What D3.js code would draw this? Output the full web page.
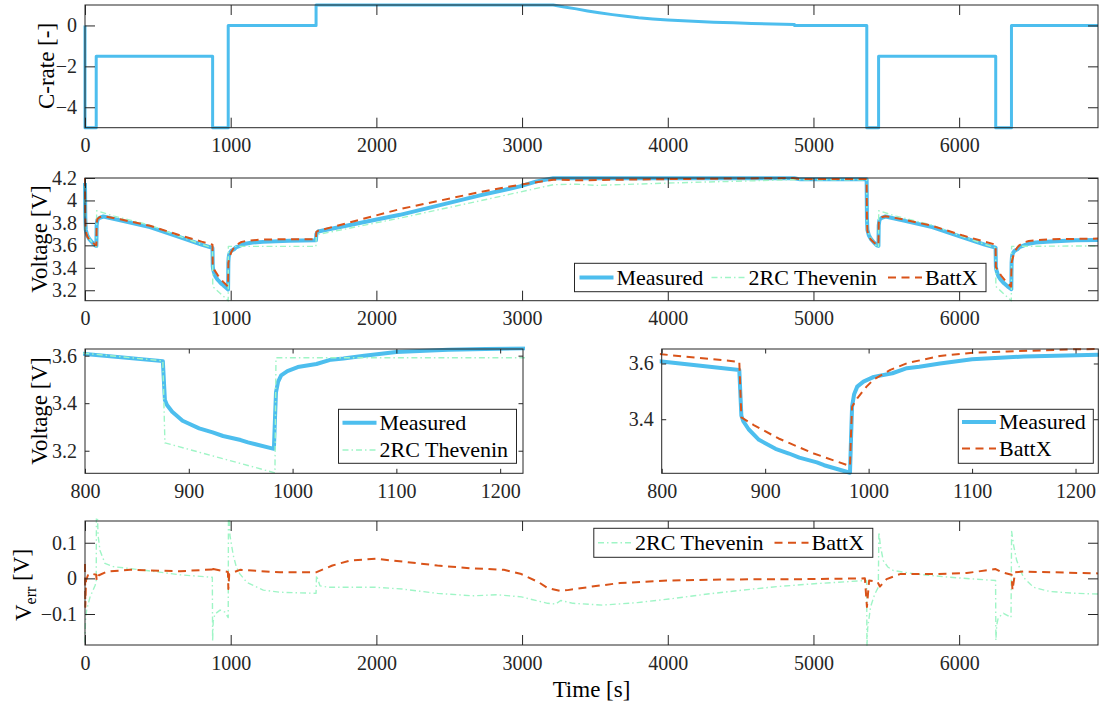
<!DOCTYPE html>
<html><head><meta charset="utf-8">
<script src="https://cdn.jsdelivr.net/npm/d3@7"></script>
<style>body{margin:0;background:#fff} svg text{font-family:'Liberation Serif','DejaVu Serif',serif;}</style>
</head><body>
<svg id="chart" width="1099" height="706" font-family="Liberation Serif, DejaVu Serif, serif"></svg>
<script>
// ---------------- data ----------------
const seriesNames = ["Measured", "2RC Thevenin", "BattX"];

// C-rate [-] vs time [s]
const cRate = [[0,0],[0,-5],[77,-5],[77,-1.5],[876,-1.5],[876,-5],[983,-5],[983,0],[1586,0],[1586,1],
  [3214,1],[3290,0.9],[3372,0.81],[3450,0.71],[3529,0.62],[3620,0.53],[3712,0.45],[3800,0.38],[3896,0.32],
  [4000,0.27],[4105,0.23],[4210,0.19],[4314,0.16],[4450,0.13],[4576,0.10],[4720,0.075],[4870,0.05],[4870,0],
  [5366,0],[5366,-5],[5447,-5],[5447,-1.5],[6251,-1.5],[6251,-5],[6359,-5],[6359,0],[6953,0]];

// Terminal voltage [V] vs time [s]
const measured = [[0,4.155],[2,3.85],[5,3.74],[15,3.69],[30,3.655],[50,3.625],[70,3.60],[78,3.595],[80,3.78],
  [85,3.827],[100,3.845],[126,3.857],[250,3.82],[446,3.762],[650,3.673],[800,3.607],[875,3.577],[877,3.413],
  [879,3.392],[884,3.364],[894,3.326],[910,3.294],[923,3.277],[933,3.262],[950,3.245],[957,3.235],[982,3.208],
  [983,3.33],[984,3.445],[986,3.49],[989,3.517],[995,3.535],[1005,3.552],[1023,3.565],[1037,3.583],[1049,3.588],
  [1069,3.600],[1100,3.615],[1150,3.625],[1222,3.631],[1400,3.64],[1585,3.645],[1588,3.70],[1600,3.723],
  [2162,3.872],[2711,4.045],[2985,4.125],[3100,4.17],[3214,4.197],[4870,4.197],[4907,4.188],[5365,4.188],
  [5367,3.85],[5370,3.74],[5380,3.69],[5395,3.655],[5415,3.625],[5435,3.60],[5446,3.595],[5448,3.78],
  [5453,3.827],[5468,3.845],[5494,3.857],[5620,3.82],[5815,3.762],[6020,3.673],[6175,3.607],[6250,3.58],
  [6252,3.413],[6254,3.392],[6259,3.364],[6269,3.326],[6285,3.294],[6308,3.262],[6332,3.235],[6358,3.21],
  [6359,3.33],[6360,3.445],[6362,3.49],[6365,3.517],[6371,3.535],[6381,3.552],[6399,3.565],[6413,3.583],
  [6445,3.600],[6476,3.615],[6526,3.625],[6600,3.633],[6800,3.645],[6953,3.648]];

const thevenin = [[0,4.15],[2,3.74],[30,3.66],[60,3.605],[78,3.58],[80,3.908],[200,3.86],[446,3.78],[650,3.68],
  [800,3.61],[875,3.578],[877,3.233],[983,3.107],[984,3.591],[1585,3.591],[1588,3.694],[2162,3.843],
  [2711,3.997],[2985,4.075],[3214,4.14],[3374,4.145],[3511,4.134],[4003,4.155],[4861,4.185],[5365,4.185],
  [5367,3.74],[5395,3.66],[5425,3.605],[5446,3.58],[5448,3.908],[5568,3.86],[5815,3.78],[6020,3.68],
  [6175,3.61],[6250,3.578],[6252,3.233],[6358,3.107],[6360,3.591],[6953,3.595]];

const battx = [[0,4.2],[2,3.85],[5,3.73],[15,3.68],[30,3.65],[50,3.625],[70,3.605],[78,3.60],[80,3.80],
  [85,3.835],[100,3.85],[126,3.86],[250,3.83],[446,3.774],[650,3.69],[789,3.638],[800,3.633],[875,3.606],
  [877,3.407],[889,3.379],[913,3.331],[947,3.277],[982,3.232],[983,3.35],[984,3.445],[989,3.475],[998,3.517],
  [1005,3.543],[1021,3.577],[1037,3.601],[1069,3.627],[1102,3.639],[1134,3.643],[1198,3.651],[1222,3.652],
  [1419,3.655],[1585,3.655],[1588,3.72],[1600,3.73],[2162,3.923],[2711,4.075],[2985,4.14],[3214,4.185],
  [3397,4.18],[4003,4.19],[4861,4.2],[4907,4.19],[5365,4.19],[5367,3.85],[5370,3.73],[5380,3.68],
  [5395,3.65],[5415,3.625],[5435,3.605],[5446,3.60],[5448,3.80],[5453,3.835],[5468,3.85],[5494,3.86],
  [5620,3.83],[5815,3.774],[6020,3.69],[6175,3.633],[6250,3.606],[6252,3.407],[6264,3.379],[6288,3.331],
  [6322,3.277],[6357,3.232],[6358,3.35],[6360,3.445],[6365,3.475],[6374,3.517],[6381,3.543],[6397,3.577],
  [6413,3.601],[6445,3.627],[6478,3.639],[6574,3.651],[6700,3.656],[6953,3.66]];

// Voltage error [V] vs time [s]
const errThevenin = [[0,-0.18],[3,-0.12],[11,-0.09],[34,-0.053],[69,-0.02],[77,-0.01],[79,0.25],[90,0.12],
  [103,0.078],[137,0.042],[194,0.033],[423,0.022],[652,0.01],[874,0.003],[876,-0.177],[880,-0.12],
  [892,-0.1],[927,-0.089],[960,-0.095],[983,-0.11],[985,0.25],[995,0.12],[1018,0.064],[1040,0.03],
  [1064,0.012],[1110,-0.011],[1224,-0.033],[1339,-0.039],[1586,-0.042],[1589,0.008],[1613,-0.021],
  [1670,-0.025],[1994,-0.025],[2179,-0.03],[2419,-0.042],[2659,-0.049],[2827,-0.046],[2995,-0.052],
  [3175,-0.07],[3230,-0.072],[3265,-0.062],[3350,-0.07],[3552,-0.075],[3792,-0.068],[4008,-0.058],
  [4273,-0.044],[4513,-0.033],[4753,-0.023],[5005,-0.015],[5365,-0.006],[5367,-0.19],[5372,-0.14],
  [5392,-0.08],[5420,-0.045],[5445,-0.025],[5449,0.13],[5460,0.09],[5479,0.05],[5510,0.032],[5548,0.022],
  [5708,0.012],[5937,0.003],[6250,-0.006],[6252,-0.174],[6258,-0.13],[6269,-0.11],[6304,-0.098],
  [6356,-0.11],[6360,0.132],[6375,0.09],[6395,0.05],[6441,0.003],[6510,-0.025],[6624,-0.037],
  [6800,-0.042],[6953,-0.044]];

const errBattx = [[0,0.04],[2,-0.08],[7,-0.006],[23,0.012],[57,0.012],[77,0.01],[80,-0.006],[92,0.008],
  [149,0.019],[309,0.024],[652,0.02],[874,0.025],[876,0.016],[880,0.026],[950,0.02],[981,0.018],[984,-0.03],
  [990,0.012],[1064,0.024],[1339,0.017],[1586,0.017],[1698,0.036],[1818,0.05],[1994,0.055],[2179,0.047],
  [2419,0.036],[2659,0.028],[2875,0.024],[2995,0.012],[3115,-0.011],[3175,-0.027],[3260,-0.035],
  [3312,-0.033],[3480,-0.023],[3672,-0.013],[4008,-0.006],[4393,-0.003],[5005,-0.002],[5353,0],
  [5367,-0.08],[5382,-0.006],[5440,-0.01],[5456,-0.023],[5502,-0.002],[5594,0.012],[5823,0.012],
  [6052,0.015],[6250,0.026],[6292,0.017],[6360,0.01],[6366,-0.033],[6384,0.017],[6441,0.019],[6953,0.014]];

// ticks
const timeTicks = [0,1000,2000,3000,4000,5000,6000];
const zoomTicks = [800,900,1000,1100,1200];
const crateTicks = [-4,-2,0];
const voltTicks = [3.2,3.4,3.6,3.8,4,4.2];
const zoomLeftTicks = [3.2,3.4,3.6];
const zoomRightTicks = [3.4,3.6];
const errTicks = [-0.1,0,0.1];

// ---------------- drawing ----------------
const FONT = "Liberation Serif, DejaVu Serif, serif";
const AX = "#262626";
const C_MEAS = "#4DBEEE", C_THEV = "#9ff5c6", C_BATT = "#D95319";
const styles = {
  "Measured":     {color: C_MEAS, width: 4,   dash: null},
  "2RC Thevenin": {color: C_THEV, width: 1.4, dash: "6,3,1.5,3"},
  "BattX":        {color: C_BATT, width: 2,   dash: "8,5.5"}
};

const svg = d3.select("#chart");
let clipId = 0;

function panel(o) {
  const x = d3.scaleLinear().domain(o.xd).range([o.x0, o.x1]);
  const y = d3.scaleLinear().domain(o.yd).range([o.y1, o.y0]);
  const tl = o.tick;
  const g = svg.append("g");
  const id = "clip" + (clipId++);
  svg.append("clipPath").attr("id", id).append("rect")
    .attr("x", o.x0 - 2).attr("y", o.y0 - 2.5).attr("width", o.x1 - o.x0 + 4).attr("height", o.y1 - o.y0 + 5);
  const plot = g.append("g").attr("clip-path", `url(#${id})`);

  const styleAxis = sel => {
    sel.attr("font-family", FONT).attr("font-size", 20);
    sel.select(".domain").remove();
    sel.selectAll(".tick line").attr("stroke", AX).attr("stroke-width", 1);
    sel.selectAll(".tick text").attr("fill", AX);
  };
  g.append("g").attr("transform", `translate(0,${o.y1})`)
    .call(d3.axisBottom(x).tickValues(o.xt).tickSize(-tl).tickPadding(10.5).tickFormat(d3.format("d")))
    .call(styleAxis);
  g.append("g").attr("transform", `translate(0,${o.y0})`)
    .call(d3.axisTop(x).tickValues(o.xt).tickSize(-tl).tickFormat(""))
    .call(styleAxis);
  g.append("g").attr("transform", `translate(${o.x0},0)`)
    .call(d3.axisLeft(y).tickValues(o.yt).tickSize(-tl).tickPadding(8).tickFormat(d3.format("~g")))
    .call(styleAxis);
  g.append("g").attr("transform", `translate(${o.x1},0)`)
    .call(d3.axisRight(y).tickValues(o.yt).tickSize(-tl).tickFormat(""))
    .call(styleAxis);

  const line = d3.line().x(d => x(d[0])).y(d => y(d[1]));
  o.series.forEach(s => {
    const st = s.style;
    plot.append("path").datum(s.data).attr("d", line)
      .attr("fill", "none").attr("stroke", st.color).attr("stroke-width", st.width)
      .attr("stroke-dasharray", st.dash).attr("stroke-linejoin", "round");
  });

  g.append("rect").attr("x", o.x0).attr("y", o.y0).attr("width", o.x1 - o.x0).attr("height", o.y1 - o.y0)
    .attr("fill", "none").attr("stroke", AX).attr("stroke-width", 1);
  return {g, x, y};
}

function legend(o) {
  const g = svg.append("g");
  g.append("rect").attr("x", o.x).attr("y", o.y).attr("width", o.w).attr("height", o.h)
    .attr("fill", "#fff").attr("stroke", AX).attr("stroke-width", 1);
  o.items.forEach(it => {
    const st = styles[it.name];
    g.append("line").attr("x1", it.lx).attr("x2", it.lx + 34).attr("y1", it.cy).attr("y2", it.cy)
      .attr("stroke", st.color).attr("stroke-width", st.width).attr("stroke-dasharray", st.dash);
    g.append("text").attr("x", it.lx + 37).attr("y", it.cy).attr("dy", "0.34em")
      .attr("fill", "#000").attr("font-family", FONT).attr("font-size", 22).text(it.name);
  });
}

function ylabel(cx, cy, txt, sub) {
  const t = svg.append("text").attr("transform", `translate(${cx},${cy}) rotate(-90)`)
    .attr("text-anchor", "middle").attr("dy", "0.35em").attr("fill", "#000")
    .attr("font-family", FONT).attr("font-size", 23);
  if (sub) {
    t.append("tspan").text(txt);
    t.append("tspan").attr("dy", "0.3em").attr("font-size", 16).text(sub);
    t.append("tspan").attr("dy", "-0.3em").text(" [V]");
  } else t.text(txt);
}

const S = n => styles[n];
const TMAX = 6953;

// Panel 1: C-rate
panel({x0: 85, x1: 1098, y0: 5, y1: 127.7, xd: [0, TMAX], yd: [-5, 1], xt: timeTicks, yt: crateTicks, tick: 10,
  series: [{data: cRate, style: {color: C_MEAS, width: 3, dash: null}}]});
ylabel(46, 66, "C-rate [-]");

// Panel 2: full voltage
panel({x0: 85, x1: 1098, y0: 178, y1: 300.7, xd: [0, TMAX], yd: [3.107, 4.2], xt: timeTicks, yt: voltTicks, tick: 10,
  series: [{data: measured, style: S("Measured")}, {data: thevenin, style: S("2RC Thevenin")}, {data: battx, style: S("BattX")}]});
ylabel(39, 239, "Voltage [V]");
legend({x: 574.5, y: 263.3, w: 411.5, h: 28.4, items: [
  {name: seriesNames[0], lx: 579.5, cy: 277.5},
  {name: seriesNames[1], lx: 711.5, cy: 277.5},
  {name: seriesNames[2], lx: 888, cy: 277.5}]});

// Panel 3: zoom, Measured vs Thevenin
panel({x0: 85, x1: 523, y0: 349, y1: 473.3, xd: [800, 1222], yd: [3.105, 3.628], xt: zoomTicks, yt: zoomLeftTicks, tick: 4.5,
  series: [{data: measured, style: S("Measured")}, {data: thevenin, style: S("2RC Thevenin")}]});
ylabel(39, 411, "Voltage [V]");
legend({x: 338.5, y: 409.3, w: 178, h: 54, items: [
  {name: seriesNames[0], lx: 342.5, cy: 422.7},
  {name: seriesNames[1], lx: 342.5, cy: 450}]});

// Panel 4: zoom, Measured vs BattX
panel({x0: 661.7, x1: 1098.3, y0: 349, y1: 473.3, xd: [800, 1222], yd: [3.206, 3.652], xt: zoomTicks, yt: zoomRightTicks, tick: 4.5,
  series: [{data: measured, style: S("Measured")}, {data: battx, style: S("BattX")}]});
legend({x: 958.3, y: 409.3, w: 135, h: 54, items: [
  {name: seriesNames[0], lx: 962, cy: 422},
  {name: seriesNames[2], lx: 962, cy: 448.5}]});

// Panel 5: error
panel({x0: 85, x1: 1098, y0: 521, y1: 645, xd: [0, TMAX], yd: [-0.187, 0.161], xt: timeTicks, yt: errTicks, tick: 10,
  series: [{data: errThevenin, style: S("2RC Thevenin")}, {data: errBattx, style: S("BattX")}]});
ylabel(23, 585, "V", "err");
legend({x: 593.8, y: 528.3, w: 279, h: 29, items: [
  {name: seriesNames[1], lx: 598, cy: 542.7},
  {name: seriesNames[2], lx: 774.5, cy: 542.7}]});

svg.append("text").attr("x", 591.5).attr("y", 697).attr("text-anchor", "middle").attr("fill", "#000")
  .attr("font-family", FONT).attr("font-size", 23).text("Time [s]");
</script>
</body></html>
